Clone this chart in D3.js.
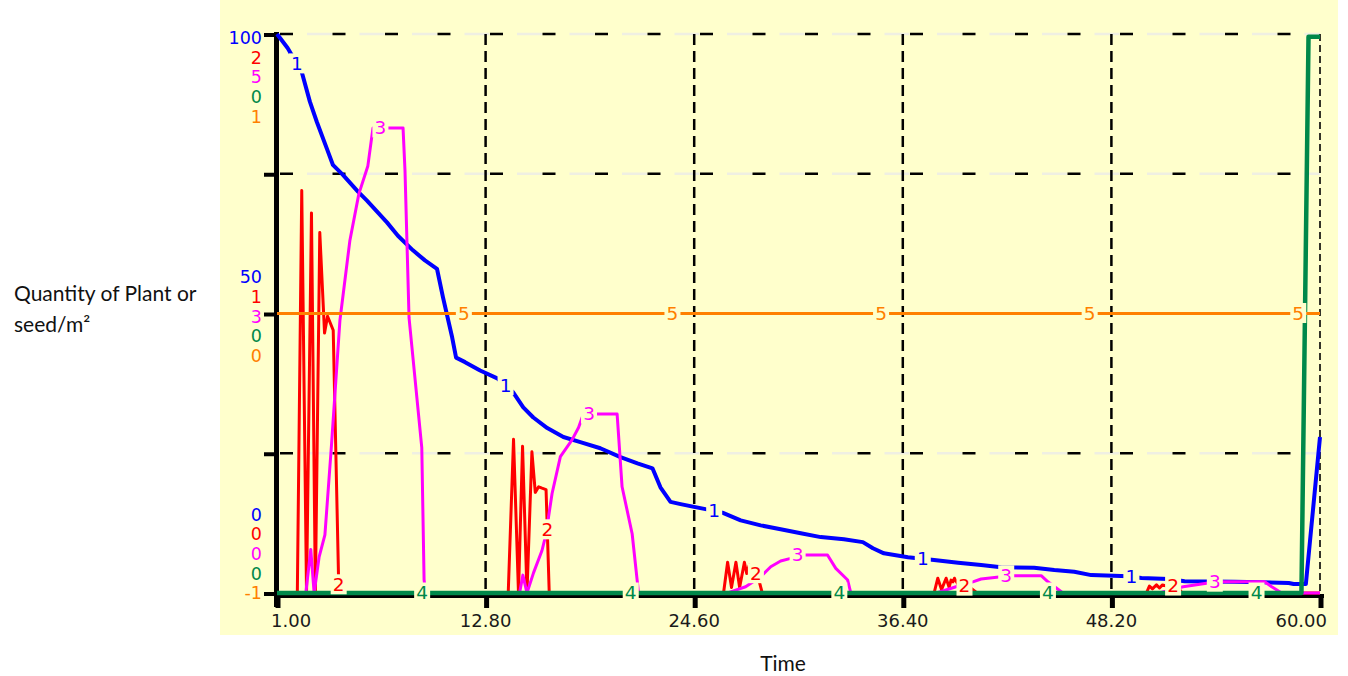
<!DOCTYPE html>
<html>
<head>
<meta charset="utf-8">
<script src="https://cdn.jsdelivr.net/npm/d3@7"></script>
<style>
  body { margin: 0; background: #ffffff; }
  svg { display: block; }
  .num { font-family: "DejaVu Sans", Verdana, sans-serif; font-size: 17.5px; }
  .tick { font-family: "DejaVu Sans", Verdana, sans-serif; font-size: 18px; }
  .tag { font-family: "DejaVu Sans", Verdana, sans-serif; font-size: 18.5px; }
  .title { font-family: Lato, "Noto Sans", sans-serif; font-size: 21px; fill: #111; }
</style>
</head>
<body>
<svg id="chart" width="1348" height="676"></svg>
<script>
// Time axis
const timeTicks = [1, 12.8, 24.6, 36.4, 48.2, 60];
const timeTickLabels = ["1.00", "12.80", "24.60", "36.40", "48.20", "60.00"];

// Series 1 (blue) — [time, value], scale 0..100
const series1 = [
  [1, 100], [1.6, 97.5], [2.4, 93.2], [2.86, 87.9], [3.25, 84.3], [3.82, 79.5],
  [4.16, 76.6], [4.73, 74.8], [5.58, 71.8], [6.09, 70.2], [7.22, 66.3], [7.84, 63.9],
  [8.69, 61.3], [9.37, 59.5], [10.05, 58.0], [10.39, 52.9], [10.91, 45.7], [11.13, 42.1],
  [11.64, 41.3], [12.49, 39.8], [13.46, 38.4], [14.36, 35.9], [14.93, 33.2], [15.5, 31.4],
  [16.29, 29.5], [17.2, 27.9], [18.16, 27.0], [19.29, 25.9], [20.43, 24.3], [21.39, 23.2],
  [22.24, 22.3], [22.69, 18.9], [23.26, 16.3], [23.83, 15.9], [25.24, 15.0], [26.26, 14.3],
  [27.23, 13.0], [28.36, 12.1], [29.49, 11.4], [30.63, 10.7], [31.76, 10.0], [33.07, 9.6],
  [34.14, 9.1], [34.71, 8.0], [35.33, 7.1], [36.69, 6.4], [38.17, 5.9], [39.53, 5.4],
  [40.83, 5.0], [41.96, 4.6], [43.83, 4.5], [44.97, 4.1], [46.1, 3.8], [47.06, 3.2],
  [49.16, 3.0], [49.9, 2.7], [51.43, 2.5], [52.34, 2.1], [55.17, 2.0], [58.23, 1.8],
  [58.51, 1.6], [59.2, 1.6], [60, 27.9]
];

// Series 2 (red) — scale 0..2
const series2 = [
  [1, 0], [2.15, 0], [2.4, 1.44], [2.67, 0], [2.95, 1.36], [3.17, 0], [3.42, 1.29],
  [3.69, 0.93], [3.86, 0.99], [4.18, 0.94], [4.5, 0],
  [14.08, 0], [14.38, 0.55], [14.66, 0], [14.89, 0.525], [15.14, 0], [15.42, 0.505],
  [15.61, 0.36], [15.8, 0.38], [15.99, 0.375], [16.22, 0.37], [16.4, 0],
  [26.26, 0], [26.49, 0.11], [26.71, 0.02], [26.96, 0.11], [27.17, 0.02], [27.44, 0.11],
  [27.57, 0.07], [27.72, 0.1], [28.2, 0.06], [28.45, 0],
  [38.17, 0], [38.38, 0.053], [38.59, 0.012], [38.85, 0.053], [39.02, 0.02], [39.13, 0.046],
  [39.24, 0.04], [39.32, 0.053], [39.53, 0.03], [40.2, 0.02], [40.6, 0],
  [50.18, 0], [50.35, 0.025], [50.52, 0.015], [50.75, 0.029], [50.92, 0.018], [51.09, 0.029],
  [51.3, 0.025], [51.9, 0.025], [52.2, 0], [60, 0]
];

// Series 3 (magenta) — scale 0..5
const series3 = [
  [1, 0], [2.63, 0], [2.91, 0.39], [3.1, 0], [3.38, 0.32], [3.71, 0.52], [4.09, 1.34],
  [4.56, 2.44], [5.12, 3.15], [5.63, 3.57], [6.14, 3.82], [6.43, 4.16], [8.13, 4.16],
  [8.24, 3.78], [8.47, 2.46], [9.19, 1.3], [9.32, 0.12], [9.4, 0],
  [14.72, 0], [14.91, 0.16], [15.14, 0], [15.51, 0.18], [15.99, 0.38], [16.27, 0.56],
  [16.36, 0.68], [16.56, 0.89], [17.03, 1.22], [17.69, 1.37], [18.06, 1.48], [18.26, 1.57],
  [18.5, 1.6], [20.24, 1.6], [20.52, 0.95], [21.09, 0.53], [21.37, 0.12], [21.45, 0],
  [26.5, 0], [26.66, 0.01], [27.51, 0.056], [28.36, 0.146], [28.93, 0.235], [29.49, 0.286],
  [30.06, 0.31], [30.5, 0.34], [32.14, 0.34], [32.61, 0.22], [33.28, 0.116], [33.46, 0],
  [38.3, 0], [39.5, 0.06], [40.36, 0.1], [40.83, 0.125], [41.96, 0.146], [42.3, 0.155],
  [44.23, 0.155], [44.61, 0.1], [45.46, 0],
  [50.9, 0], [51.6, 0.03], [52.26, 0.056], [53.58, 0.087], [54.2, 0.1], [56.87, 0.1],
  [57.27, 0.056], [57.83, 0], [60, 0]
];

// Series 4 (green) — scale 0..0.4
const series4 = [[1, 0], [58.95, 0], [59.35, 0.398], [60, 0.398]];

// Series 5 (orange) — scale -1..1
const series5 = [[1, 0], [60, 0]];

// Per-series scale limits and the values printed on the left axis
const domains = [[0, 100], [0, 2], [0, 5], [0, 0.4], [-1, 1]];
const axisValues = [[0, 50, 100], [0, 1, 2], [0, 2.5, 5], [0, 0.2, 0.4], [-1, 0, 1]];
const colors = ["#0000ff", "#ff0000", "#ff00ff", "#00884a", "#ff8000"];
const widths = [4, 3, 3, 4.5, 3];
const seriesData = [series1, series2, series3, series4, series5];

const svg = d3.select("#chart");

const x = d3.scaleLinear().domain([1, 60]).range([277, 1320]);
const frac = d3.scaleLinear().domain([0, 1]).range([593, 34]);
const yScales = domains.map(d => d3.scaleLinear().domain(d).range([593, 34]));

// Panel background
svg.append("rect").attr("x", 220).attr("y", 0).attr("width", 1118).attr("height", 635)
  .attr("fill", "#ffffcc");

// Horizontal grid: pale band dashes plus black dashes
const gridFracs = [0.25, 0.5, 0.75, 1];
const gh = svg.append("g");
gridFracs.forEach(f => {
  const yy = frac(f);
  gh.append("line").attr("x1", 280).attr("x2", 1320).attr("y1", yy).attr("y2", yy)
    .attr("stroke", "#efefe2").attr("stroke-width", 2.5)
    .attr("stroke-dasharray", "25,27.5").attr("stroke-dashoffset", 25.5);
  gh.append("line").attr("x1", 280).attr("x2", 1320).attr("y1", yy).attr("y2", yy)
    .attr("stroke", "#000").attr("stroke-width", 2.5)
    .attr("stroke-dasharray", "13,39.5");
});

// Vertical grid
timeTicks.slice(1).forEach((t, i, arr) => {
  const last = i === arr.length - 1;
  gh.append("line").attr("x1", x(t)).attr("x2", x(t)).attr("y1", frac(1)).attr("y2", frac(0))
    .attr("stroke", "#000").attr("stroke-width", last ? 1.6 : 2.5)
    .attr("stroke-dasharray", last ? "7,4" : "11,6");
});

// Axes
const ax = svg.append("g");
ax.append("line").attr("x1", 274).attr("x2", 1324).attr("y1", 596).attr("y2", 596)
  .attr("stroke", "#000").attr("stroke-width", 4);
ax.append("line").attr("x1", 276.5).attr("x2", 276.5).attr("y1", frac(1) - 2).attr("y2", 607)
  .attr("stroke", "#000").attr("stroke-width", 5);
[0, 0.25, 0.5, 0.75, 1].forEach(f => {
  ax.append("line").attr("x1", 264).attr("x2", 277).attr("y1", frac(f) + 1).attr("y2", frac(f) + 1)
    .attr("stroke", "#000").attr("stroke-width", 4);
});
timeTicks.forEach(t => {
  ax.append("line").attr("x1", x(t) + 1).attr("x2", x(t) + 1).attr("y1", 594).attr("y2", 608)
    .attr("stroke", "#000").attr("stroke-width", 5);
});

// Time tick labels
timeTicks.forEach((t, i) => {
  const first = i === 0, last = i === timeTicks.length - 1;
  svg.append("text").attr("class", "tick")
    .attr("x", first ? 271 : last ? 1327 : x(t))
    .attr("y", 627)
    .attr("text-anchor", first ? "start" : last ? "end" : "middle")
    .attr("fill", "#1a1a1a")
    .text(timeTickLabels[i]);
});

// Left axis: stacked value labels for each series
const fmt = v => String(Math.round(v));
const stackStart = [frac(0) - 72.5, frac(0.5) - 30.2, frac(1) + 10];
[0, 1, 2].forEach(level => {
  domains.forEach((d, k) => {
    svg.append("text").attr("class", "num")
      .attr("x", 262).attr("y", stackStart[level] + 19.7 * k)
      .attr("text-anchor", "end").attr("fill", colors[k])
      .text(fmt(axisValues[k][level]));
  });
});

// Series lines
const lines = svg.append("g").attr("fill", "none");
seriesData.forEach((data, k) => {
  const line = d3.line().x(d => x(d[0])).y(d => yScales[k](d[1]));
  lines.append("path").datum(data).attr("d", line)
    .attr("stroke", colors[k]).attr("stroke-width", widths[k])
    .attr("stroke-linejoin", "round");
});

// Series number labels, set on a background box that breaks the line
function valueAt(data, t) {
  for (let i = 1; i < data.length; i++) {
    if (t <= data[i][0]) {
      const [t0, v0] = data[i - 1], [t1, v1] = data[i];
      return v0 + (v1 - v0) * (t - t0) / (t1 - t0);
    }
  }
  return data[data.length - 1][1];
}
const tags = svg.append("g");
seriesData.forEach((data, k) => {
  for (let i = 0; i < 5; i++) {
    const t = 2.13 + 2.36 * k + 11.8 * i;
    const px = x(t), py = yScales[k](valueAt(data, t));
    tags.append("rect").attr("x", px - 8).attr("y", py - 10.5).attr("width", 16).attr("height", 20)
      .attr("fill", "#ffffcc");
    tags.append("text").attr("class", "tag").attr("x", px).attr("y", py + 6)
      .attr("text-anchor", "middle").attr("fill", colors[k]).text(String(k + 1));
  }
});

// Axis titles
svg.append("text").attr("class", "title").attr("x", 14).attr("y", 301).text("Quantity of Plant or");
svg.append("text").attr("class", "title").attr("x", 14).attr("y", 332).text("seed/m²");
svg.append("text").attr("class", "title").attr("x", 783).attr("y", 671)
  .attr("text-anchor", "middle").text("Time");
</script>
</body>
</html>
